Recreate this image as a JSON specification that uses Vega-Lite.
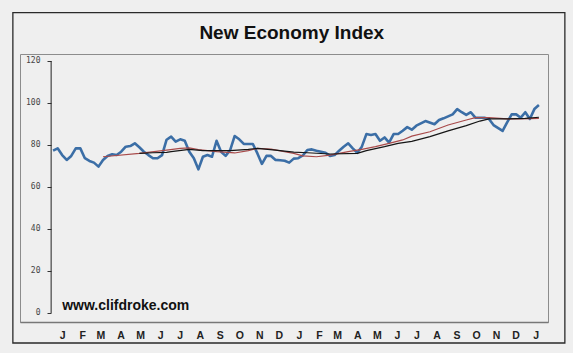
{
  "$schema": "https://vega.github.io/schema/vega-lite/v6.json",
  "width": 528,
  "height": 268,
  "autosize": {"type": "none"},
  "padding": {"left": 20, "top": 54, "right": 25, "bottom": 31},
  "background": "#efefef",
  "config": {"view": {"stroke": "#8c8c8c", "strokeWidth": 1}, "axis": {"labelOverlap": false, "grid": false}},
  "resolve": {"axis": {"x": "independent", "y": "independent"}},
  "datasets": {
    "nei": [
      {"date": "2006-01-01", "value": 77.3}, {"date": "2006-01-08", "value": 78.4}, {"date": "2006-01-15", "value": 75.2}, {"date": "2006-01-22", "value": 72.9},
      {"date": "2006-01-29", "value": 74.8}, {"date": "2006-02-05", "value": 78.4}, {"date": "2006-02-12", "value": 78.4}, {"date": "2006-02-19", "value": 73.7},
      {"date": "2006-02-26", "value": 72.4}, {"date": "2006-03-05", "value": 71.6}, {"date": "2006-03-12", "value": 69.7}, {"date": "2006-03-19", "value": 72.9},
      {"date": "2006-03-26", "value": 74.8}, {"date": "2006-04-02", "value": 75.6}, {"date": "2006-04-09", "value": 75.2}, {"date": "2006-04-16", "value": 76.8},
      {"date": "2006-04-23", "value": 79.2}, {"date": "2006-04-30", "value": 79.5}, {"date": "2006-05-07", "value": 80.8}, {"date": "2006-05-14", "value": 78.9},
      {"date": "2006-05-21", "value": 76.8}, {"date": "2006-05-28", "value": 75.2}, {"date": "2006-06-04", "value": 73.7}, {"date": "2006-06-11", "value": 73.7},
      {"date": "2006-06-18", "value": 75.2}, {"date": "2006-06-25", "value": 82.5}, {"date": "2006-07-02", "value": 84.0}, {"date": "2006-07-09", "value": 81.6},
      {"date": "2006-07-16", "value": 82.7}, {"date": "2006-07-23", "value": 82.0}, {"date": "2006-07-30", "value": 76.8}, {"date": "2006-08-06", "value": 73.7},
      {"date": "2006-08-13", "value": 68.4}, {"date": "2006-08-20", "value": 74.4}, {"date": "2006-08-27", "value": 75.2}, {"date": "2006-09-03", "value": 74.4},
      {"date": "2006-09-10", "value": 82.0}, {"date": "2006-09-17", "value": 76.8}, {"date": "2006-09-24", "value": 74.8}, {"date": "2006-10-01", "value": 77.6},
      {"date": "2006-10-08", "value": 84.3}, {"date": "2006-10-15", "value": 82.7}, {"date": "2006-10-22", "value": 80.5}, {"date": "2006-10-29", "value": 80.5},
      {"date": "2006-11-05", "value": 80.5}, {"date": "2006-11-12", "value": 76.0}, {"date": "2006-11-19", "value": 71.0}, {"date": "2006-11-26", "value": 74.8},
      {"date": "2006-12-03", "value": 74.8}, {"date": "2006-12-10", "value": 72.9}, {"date": "2006-12-17", "value": 72.7}, {"date": "2006-12-24", "value": 72.5},
      {"date": "2006-12-31", "value": 71.6}, {"date": "2007-01-07", "value": 73.5}, {"date": "2007-01-14", "value": 73.7}, {"date": "2007-01-21", "value": 75.0},
      {"date": "2007-01-28", "value": 77.6}, {"date": "2007-02-04", "value": 77.9}, {"date": "2007-02-11", "value": 77.3}, {"date": "2007-02-18", "value": 76.8},
      {"date": "2007-02-25", "value": 76.3}, {"date": "2007-03-04", "value": 74.8}, {"date": "2007-03-11", "value": 75.2}, {"date": "2007-03-18", "value": 77.3},
      {"date": "2007-03-25", "value": 79.2}, {"date": "2007-04-01", "value": 80.8}, {"date": "2007-04-08", "value": 78.4}, {"date": "2007-04-15", "value": 76.3},
      {"date": "2007-04-22", "value": 79.2}, {"date": "2007-04-29", "value": 85.2}, {"date": "2007-05-06", "value": 84.8}, {"date": "2007-05-13", "value": 85.2},
      {"date": "2007-05-20", "value": 82.0}, {"date": "2007-05-27", "value": 83.6}, {"date": "2007-06-03", "value": 81.1}, {"date": "2007-06-10", "value": 85.2},
      {"date": "2007-06-17", "value": 85.2}, {"date": "2007-06-24", "value": 86.8}, {"date": "2007-07-01", "value": 88.5}, {"date": "2007-07-08", "value": 87.3},
      {"date": "2007-07-15", "value": 89.2}, {"date": "2007-07-29", "value": 91.4}, {"date": "2007-08-12", "value": 89.9}, {"date": "2007-08-19", "value": 91.9},
      {"date": "2007-08-26", "value": 92.7}, {"date": "2007-09-09", "value": 94.6}, {"date": "2007-09-16", "value": 97.1}, {"date": "2007-09-23", "value": 95.6},
      {"date": "2007-09-30", "value": 94.3}, {"date": "2007-10-07", "value": 95.6}, {"date": "2007-10-14", "value": 93.0}, {"date": "2007-10-28", "value": 93.0},
      {"date": "2007-11-04", "value": 92.4}, {"date": "2007-11-11", "value": 89.5}, {"date": "2007-11-25", "value": 86.7}, {"date": "2007-12-02", "value": 90.8},
      {"date": "2007-12-09", "value": 94.6}, {"date": "2007-12-16", "value": 94.6}, {"date": "2007-12-23", "value": 93.0}, {"date": "2007-12-30", "value": 95.6},
      {"date": "2008-01-06", "value": 92.4}, {"date": "2008-01-13", "value": 97.1}, {"date": "2008-01-20", "value": 99.0}
    ],
    "ma_red": [
      {"date": "2006-03-19", "value": 74.4}, {"date": "2006-05-14", "value": 76.0}, {"date": "2006-06-25", "value": 77.6}, {"date": "2006-07-16", "value": 78.4},
      {"date": "2006-07-30", "value": 78.6}, {"date": "2006-08-13", "value": 77.8}, {"date": "2006-09-10", "value": 76.8}, {"date": "2006-10-08", "value": 76.2},
      {"date": "2006-10-29", "value": 77.3}, {"date": "2006-11-12", "value": 78.4}, {"date": "2006-12-03", "value": 78.0}, {"date": "2007-01-07", "value": 76.0},
      {"date": "2007-01-21", "value": 74.8}, {"date": "2007-02-11", "value": 74.4}, {"date": "2007-03-04", "value": 75.2}, {"date": "2007-04-01", "value": 76.8},
      {"date": "2007-04-22", "value": 77.9}, {"date": "2007-05-13", "value": 79.2}, {"date": "2007-06-03", "value": 80.8}, {"date": "2007-06-24", "value": 82.4},
      {"date": "2007-07-08", "value": 84.2}, {"date": "2007-08-05", "value": 86.3}, {"date": "2007-09-02", "value": 89.5}, {"date": "2007-09-30", "value": 91.9},
      {"date": "2007-10-14", "value": 93.0}, {"date": "2007-11-04", "value": 93.0}, {"date": "2007-12-02", "value": 92.4}, {"date": "2007-12-23", "value": 92.4},
      {"date": "2008-01-20", "value": 92.7}
    ],
    "ma_black": [
      {"date": "2006-05-14", "value": 76.0}, {"date": "2006-06-04", "value": 76.3}, {"date": "2006-06-25", "value": 76.5}, {"date": "2006-07-02", "value": 76.8},
      {"date": "2006-07-30", "value": 77.9}, {"date": "2006-08-20", "value": 77.3}, {"date": "2006-10-01", "value": 77.3}, {"date": "2006-10-29", "value": 77.9},
      {"date": "2006-11-12", "value": 78.4}, {"date": "2006-12-10", "value": 77.6}, {"date": "2007-01-07", "value": 76.6}, {"date": "2007-01-28", "value": 76.3},
      {"date": "2007-03-04", "value": 75.7}, {"date": "2007-04-15", "value": 76.0}, {"date": "2007-04-29", "value": 77.3}, {"date": "2007-05-27", "value": 79.2},
      {"date": "2007-06-17", "value": 80.8}, {"date": "2007-07-08", "value": 81.7}, {"date": "2007-08-05", "value": 84.0}, {"date": "2007-09-02", "value": 86.7},
      {"date": "2007-09-30", "value": 89.2}, {"date": "2007-10-21", "value": 91.4}, {"date": "2007-11-04", "value": 92.4}, {"date": "2007-12-02", "value": 92.4},
      {"date": "2007-12-30", "value": 92.7}, {"date": "2008-01-20", "value": 93.2}
    ],
    "one": [{"n": 1}]
  },
  "layer": [
    {
      "encoding": {
        "x": {
          "field": "date", "type": "temporal",
          "scale": {"domain": [{"year": 2005, "month": 11, "date": 11}, {"year": 2008, "month": 2, "date": 3}]},
          "axis": {
            "title": null, "grid": false, "ticks": false,
            "domainColor": "#777777", "domainWidth": 1.5,
            "values": [
              {"year": 2006, "month": 1, "date": 15}, {"year": 2006, "month": 2, "date": 15}, {"year": 2006, "month": 3, "date": 15}, {"year": 2006, "month": 4, "date": 15},
              {"year": 2006, "month": 5, "date": 15}, {"year": 2006, "month": 6, "date": 15}, {"year": 2006, "month": 7, "date": 15}, {"year": 2006, "month": 8, "date": 15},
              {"year": 2006, "month": 9, "date": 15}, {"year": 2006, "month": 10, "date": 15}, {"year": 2006, "month": 11, "date": 15}, {"year": 2006, "month": 12, "date": 15},
              {"year": 2007, "month": 1, "date": 15}, {"year": 2007, "month": 2, "date": 15}, {"year": 2007, "month": 3, "date": 15}, {"year": 2007, "month": 4, "date": 15},
              {"year": 2007, "month": 5, "date": 15}, {"year": 2007, "month": 6, "date": 15}, {"year": 2007, "month": 7, "date": 15}, {"year": 2007, "month": 8, "date": 15},
              {"year": 2007, "month": 9, "date": 15}, {"year": 2007, "month": 10, "date": 15}, {"year": 2007, "month": 11, "date": 15}, {"year": 2007, "month": 12, "date": 15},
              {"year": 2008, "month": 1, "date": 15}
            ],
            "labelExpr": "substring(timeFormat(datum.value, '%b'), 0, 1)",
            "labelOverlap": false, "labelFlush": false, "labelSeparation": 0,
            "labelFont": "Liberation Sans", "labelFontWeight": "bold", "labelFontSize": 10.5, "labelColor": "#222222", "labelPadding": 8
          }
        },
        "y": {
          "field": "value", "type": "quantitative",
          "scale": {"domain": [-4.29, 123.33], "nice": false, "zero": false},
          "axis": {
            "title": null, "grid": false, "domain": false, "offset": -31,
            "values": [0, 20, 40, 60, 80, 100, 120],
            "tickSize": 4, "tickColor": "#333333", "tickWidth": 1,
            "labelFont": "DejaVu Sans Mono", "labelFontSize": 8, "labelColor": "#444444", "labelPadding": 7
          }
        }
      },
      "layer": [
        {"data": {"name": "nei"}, "mark": {"type": "line", "color": "#3b6ea6", "strokeWidth": 2.6, "strokeJoin": "round"}},
        {"data": {"name": "ma_red"}, "mark": {"type": "line", "color": "#a84a4a", "strokeWidth": 1.2}},
        {"data": {"name": "ma_black"}, "mark": {"type": "line", "color": "#151515", "strokeWidth": 1.2}}
      ]
    },
    {
      "data": {"name": "one"},
      "mark": {"type": "rule", "color": "#222222", "strokeWidth": 1},
      "encoding": {
        "x": {"datum": {"year": 2005, "month": 12, "date": 29}, "type": "temporal", "axis": null},
        "y": {"datum": 0, "type": "quantitative", "axis": null},
        "y2": {"datum": 120}
      }
    },
    {
      "data": {"name": "one"},
      "mark": {"type": "text", "text": "www.clifdroke.com", "font": "Liberation Sans", "fontWeight": "bold", "fontSize": 14, "color": "#111111", "align": "left", "baseline": "alphabetic"},
      "encoding": {
        "x": {"datum": {"year": 2006, "month": 1, "date": 15}, "type": "temporal", "axis": null},
        "y": {"datum": 1.2, "type": "quantitative", "axis": null}
      }
    },
    {
      "data": {"name": "one"},
      "mark": {"type": "text", "text": "New Economy Index", "font": "Liberation Sans", "fontWeight": "bold", "fontSize": 19, "color": "#111111", "align": "center", "baseline": "alphabetic"},
      "encoding": {
        "x": {"datum": {"year": 2007, "month": 1, "date": 4}, "type": "temporal", "axis": null},
        "y": {"datum": 130.7, "type": "quantitative", "axis": null}
      }
    },
    {
      "data": {"name": "one"},
      "mark": {"type": "rect", "fill": "transparent", "stroke": "#2a2a2a", "strokeWidth": 1.3},
      "encoding": {
        "x": {"datum": {"year": 2005, "month": 10, "date": 31}, "type": "temporal", "axis": null},
        "x2": {"datum": {"year": 2008, "month": 2, "date": 29}},
        "y": {"datum": 143, "type": "quantitative", "axis": null},
        "y2": {"datum": -14.3}
      }
    }
  ]
}
